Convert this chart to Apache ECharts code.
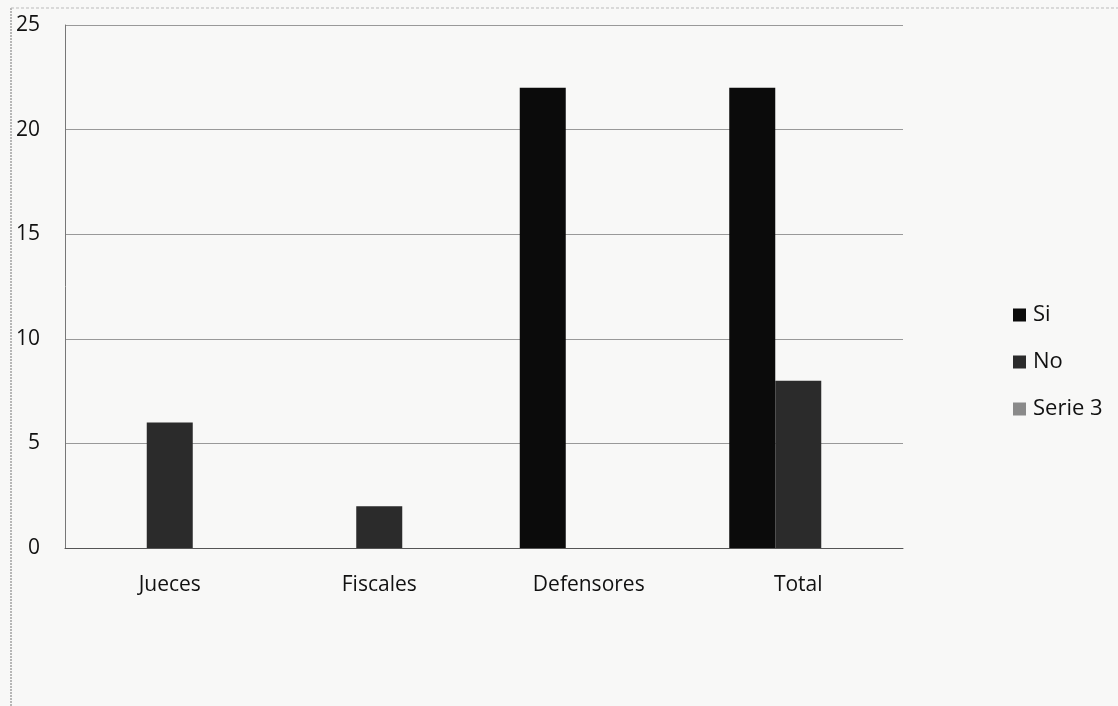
<!DOCTYPE html>
<html>
<head>
<meta charset="utf-8">
<script src="https://cdn.jsdelivr.net/npm/echarts@6/dist/echarts.min.js"></script>
<style>
  html, body { margin: 0; padding: 0; background: #f8f8f7; }
  #chart { width: 1118px; height: 706px; }
</style>
</head>
<body>
<div id="chart"></div>
<script>
const categories = ['Jueces', 'Fiscales', 'Defensores', 'Total']
const siValues = [0, 0, 22, 22]
const noValues = [6, 2, 0, 8]
const serie3Values = [0, 0, 0, 0]

const chart = echarts.init(document.getElementById('chart'))

const font = '"Open Sans", "Liberation Sans", sans-serif'

const option = {
  animation: false,
  backgroundColor: '#f8f8f7',
  textStyle: { fontFamily: font },
  graphic: [
    { type: 'line', shape: { x1: 11, y1: 8, x2: 11, y2: 706 }, style: { stroke: '#777', lineWidth: 1, lineDash: [2, 1] } },
    { type: 'line', shape: { x1: 11, y1: 8, x2: 1118, y2: 8 }, style: { stroke: '#bbb', lineWidth: 1, lineDash: [3, 2] } }
  ],
  grid: {
    left: 65,
    right: 215,
    top: 25,
    bottom: 158
  },
  legend: {
    orient: 'vertical',
    left: 1008,
    top: 299,
    itemGap: 25,
    itemWidth: 13,
    itemHeight: 13,
    icon: 'rect',
    textStyle: { fontSize: 22, color: '#111', fontFamily: font, padding: [0, 0, 0, 2] },
    data: ['Si', 'No', 'Serie 3']
  },
  xAxis: {
    type: 'category',
    data: categories,
    axisLine: { lineStyle: { color: '#555', width: 1 } },
    axisTick: { show: false },
    axisLabel: { fontSize: 21, color: '#111', margin: 27, fontFamily: font }
  },
  yAxis: {
    type: 'value',
    min: 0,
    max: 25,
    interval: 5,
    axisLine: { show: true, lineStyle: { color: '#777', width: 1 } },
    axisTick: { show: false },
    splitLine: { lineStyle: { color: '#999', width: 1 } },
    axisLabel: { fontSize: 21, color: '#111', margin: 25, fontFamily: font }
  },
  series: [
    {
      name: 'Si',
      type: 'bar',
      data: siValues,
      barWidth: 46,
      barGap: '0%',
      itemStyle: { color: '#0b0b0b' }
    },
    {
      name: 'No',
      type: 'bar',
      data: noValues,
      barWidth: 46,
      barGap: '0%',
      itemStyle: { color: '#2b2b2b' }
    },
    {
      name: 'Serie 3',
      type: 'bar',
      data: serie3Values,
      barWidth: 46,
      barGap: '0%',
      itemStyle: { color: '#8a8a8a' }
    }
  ]
}

chart.setOption(option)
</script>
</body>
</html>
